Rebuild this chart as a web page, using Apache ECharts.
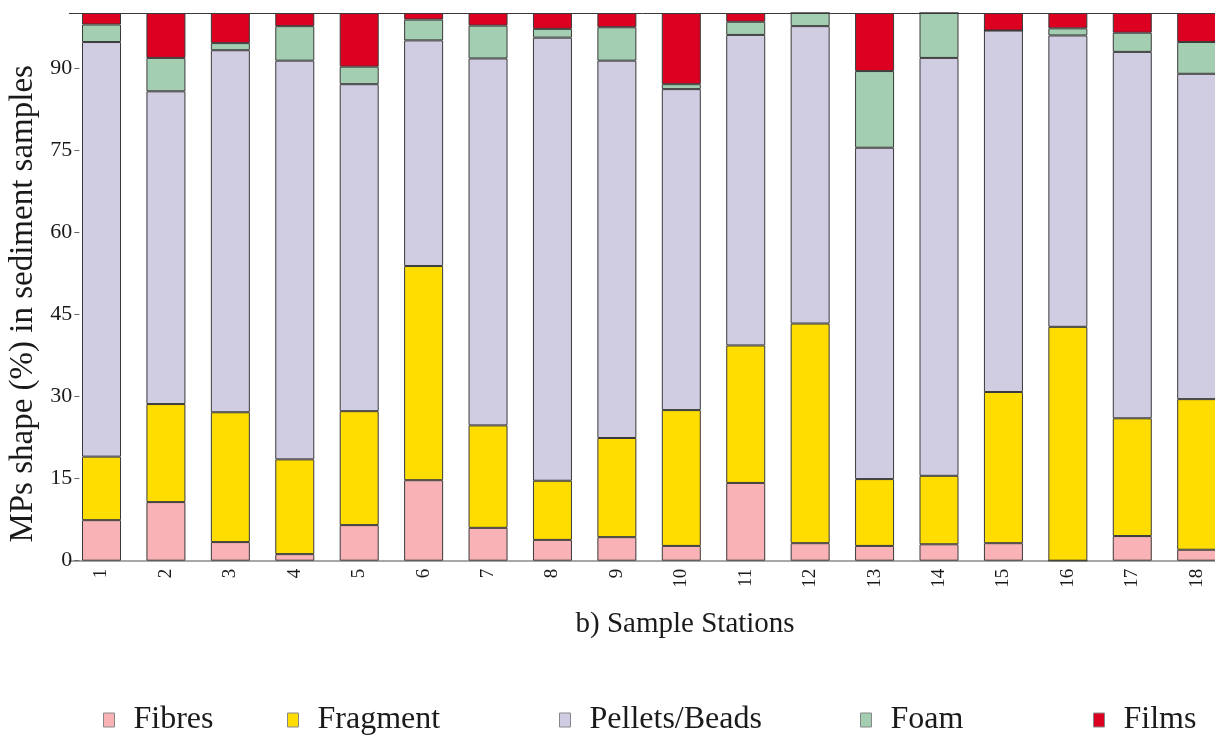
<!DOCTYPE html>
<html>
<head>
<meta charset="utf-8">
<script src="https://cdn.jsdelivr.net/npm/echarts@6/dist/echarts.min.js"></script>
<style>html,body{margin:0;padding:0;background:#fff}#c{width:1215px;height:739px}</style>
</head>
<body>
<div id="c"></div>
<script>
const stations = ['1','2','3','4','5','6','7','8','9','10','11','12','13','14','15','16','17','18'];
const fibres   = [7.4, 10.7, 3.4, 1.2, 6.5, 14.7, 6.0, 3.8, 4.3, 2.7, 14.2, 3.2, 2.7, 3.0, 3.2, 0, 4.5, 2.0];
const fragment = [11.6, 17.9, 23.7, 17.3, 20.8, 39.1, 18.7, 10.8, 18.1, 24.8, 25.1, 40.1, 12.2, 12.5, 27.6, 42.7, 21.5, 27.5];
const pellets  = [75.7, 57.1, 66.1, 72.8, 59.7, 41.2, 67.0, 80.9, 68.9, 58.6, 56.7, 54.3, 60.5, 76.3, 66.0, 53.2, 66.9, 59.4];
const foam     = [3.2, 6.1, 1.3, 6.3, 3.2, 3.8, 6.0, 1.6, 6.1, 0.9, 2.4, 2.4, 14.0, 8.2, 0, 1.3, 3.5, 5.8];
const films    = [2.1, 8.2, 5.5, 2.4, 9.8, 1.2, 2.3, 2.9, 2.6, 13.0, 1.6, 0, 10.6, 0, 3.2, 2.8, 3.6, 5.3];
const yTicks   = [0, 15, 30, 45, 60, 75, 90];

const seriesNames = ['Fibres', 'Fragment', 'Pellets/Beads', 'Foam', 'Films'];
const seriesData = [fibres, fragment, pellets, foam, films];
const colors = ['#F9B3B6', '#FFDD00', '#D0CDE3', '#A4CEB1', '#DC0021'];
const legendLeft = [98, 282, 554, 855, 1088];

const FONT = '"Liberation Serif", "Times New Roman", serif';
const chart = echarts.init(document.getElementById('c'), null, {renderer: 'canvas'});

const series = seriesNames.map((n, i) => ({
  name: n,
  type: 'bar',
  stack: 'total',
  barWidth: 39,
  data: seriesData[i],
  itemStyle: { color: colors[i], borderColor: '#3a3a3a', borderWidth: 1 },
  emphasis: { disabled: true }
}));

const legends = seriesNames.map((n, i) => ({
  data: [n],
  left: legendLeft[i],
  top: 699,
  icon: 'rect',
  itemWidth: 11,
  itemHeight: 14,
  itemStyle: { borderColor: '#888', borderWidth: 1 },
  textStyle: { fontFamily: FONT, fontSize: 32, color: '#1a1a1a', padding: [0, 0, 0, 14] },
  selectedMode: false
}));

chart.setOption({
  animation: false,
  backgroundColor: '#fff',
  legend: legends,
  grid: { left: 69.3, right: -13.9, top: 13, bottom: 178.3, containLabel: false, outerBoundsMode: 'none' },
  xAxis: [{
    type: 'category',
    data: stations,
    name: 'b) Sample Stations',
    nameLocation: 'middle',
    nameGap: 49,
    nameTextStyle: { fontFamily: FONT, fontSize: 29, color: '#1a1a1a', padding: [0, 0, 0, 72] },
    axisLine: { show: true, lineStyle: { color: '#8a8a8a', width: 1.5 } },
    axisTick: { show: false },
    axisLabel: { rotate: 90, fontFamily: FONT, fontSize: 19, color: '#1a1a1a', margin: 8 }
  }, {
    type: 'category',
    data: stations,
    position: 'top',
    axisLine: { show: true, lineStyle: { color: '#3a3a3a', width: 1 } },
    axisTick: { show: false },
    axisLabel: { show: false }
  }],
  yAxis: {
    type: 'value',
    min: 0,
    max: 100,
    interval: 15,
    offset: -10,
    name: 'MPs shape (%) in sediment samples',
    nameLocation: 'middle',
    nameGap: 38,
    nameTextStyle: { fontFamily: FONT, fontSize: 33, color: '#1a1a1a', padding: [0, 34, 0, 0] },
    axisLine: { show: false },
    axisTick: { show: true, length: 5, customValues: yTicks, lineStyle: { color: '#666' } },
    axisLabel: { customValues: yTicks, fontFamily: FONT, fontSize: 22, color: '#1a1a1a', margin: 7 },
    splitLine: { show: false }
  },
  series: series
});
</script>
</body>
</html>
